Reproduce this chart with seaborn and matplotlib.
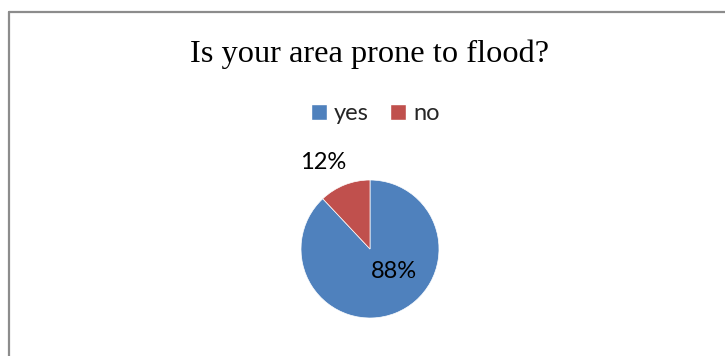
import matplotlib
matplotlib.use("Agg")
import matplotlib.pyplot as plt
import seaborn as sns
from matplotlib.patches import Rectangle
from matplotlib.lines import Line2D

categories = ["yes", "no"]
values = [88, 12]
title = "Is your area prone to flood?"

sns.set_theme(style="white")
colors = ["#4F81BD", "#C0504D"]

W, H = 725, 356
fig = plt.figure(figsize=(W / 100, H / 100), dpi=100)
fig.patch.set_facecolor("white")

# outer chart border (left and top visible)
fig.add_artist(Line2D([8.5 / W, 8.5 / W], [0, 1 - 12 / H], transform=fig.transFigure,
                      color="#8c8c8c", lw=1.6))
fig.add_artist(Line2D([8.5 / W, 1], [1 - 12 / H, 1 - 12 / H], transform=fig.transFigure,
                      color="#8c8c8c", lw=1.6))

cx, cy, r = 370, 249, 69
ax = fig.add_axes([(cx - r) / W, (H - cy - r) / H, 2 * r / W, 2 * r / H])
wedges, _ = ax.pie(values, colors=colors, startangle=90, counterclock=False,
                   radius=1, wedgeprops=dict(linewidth=0.5, edgecolor="white"))
ax.set_xlim(-1, 1)
ax.set_ylim(-1, 1)
ax.set_aspect("equal")
ax.axis("off")

total = sum(values)
font = ["Lato", "DejaVu Sans"]
ax.text(0.35, -0.33, f"{round(values[0] / total * 100)}%", ha="center", va="center",
        fontsize=17, family=font, color="black")
ax.text(-0.68, 1.26, f"{round(values[1] / total * 100)}%", ha="center", va="center",
        fontsize=17, family=font, color="black", clip_on=False)

fig.text(370 / W, 1 - 54 / H, title, ha="center", va="center",
         fontsize=23.3, family=["Liberation Serif"], color="black")

handles = [Rectangle((0, 0), 1, 1, facecolor=c) for c in colors]
fig.legend(handles, categories, loc="center", bbox_to_anchor=(375 / W, 1 - 114 / H),
           ncol=2, frameon=False, prop={"family": font, "size": 17},
           handlelength=0.68, handleheight=0.68, handletextpad=0.3, columnspacing=0.9)

fig.savefig("out.png", dpi=100, facecolor="white")
